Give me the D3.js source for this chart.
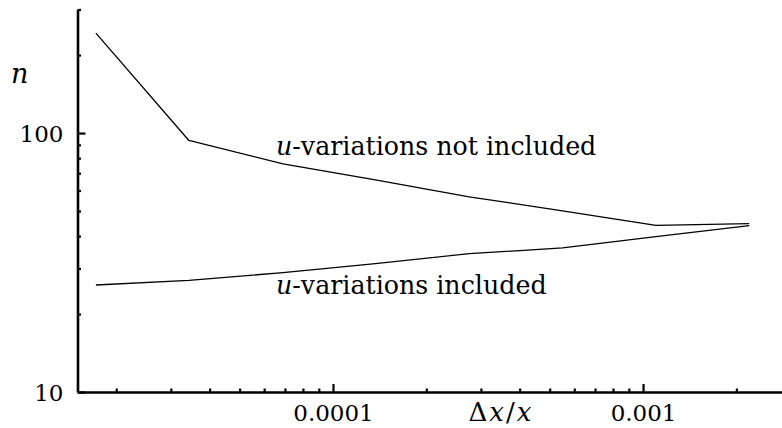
<!DOCTYPE html>
<html>
<head>
<meta charset="utf-8">
<script src="https://cdn.jsdelivr.net/npm/d3@7"></script>
<style>
  body { margin: 0; background: #fff; }
  svg { display: block; }
  text { fill: #000; }
</style>
</head>
<body>
<div id="chart"></div>
<script>
// step size dx/x and number of iterations n
var dxOverX = [1.72e-5, 3.43e-5, 6.9e-5, 1.37e-4, 2.75e-4, 5.5e-4, 1.1e-3, 2.2e-3];
var nNotIncluded = [243, 93.6, 76, 65.9, 56.7, 50.1, 44, 44.7];
var nIncluded = [25.9, 27.0, 28.9, 31.3, 34.2, 36.0, 39.8, 43.9];

var xMajorTicks = [1e-4, 1e-3];
var xMajorLabels = ["0.0001", "0.001"];
var xMinorTicks = [2e-5, 3e-5, 4e-5, 5e-5, 6e-5, 7e-5, 8e-5, 9e-5,
                   2e-4, 3e-4, 4e-4, 5e-4, 6e-4, 7e-4, 8e-4, 9e-4, 2e-3];
var yMajorTicks = [10, 100];
var yMajorLabels = ["10", "100"];
var yMinorTicks = [20, 30, 40, 50, 60, 70, 80, 90, 200, 300];

var FONT = "'DejaVu Serif', 'Noto Serif', serif";
var width = 782, height = 428;

var svg = d3.select("#chart").append("svg")
    .attr("width", width)
    .attr("height", height)
    .attr("font-family", FONT);

var x = d3.scaleLog().domain([1.5e-5, 3e-3]).range([77.5, 791]);
var y = d3.scaleLog().domain([10, 300]).range([392, 9.5]);

// axes (ticks point inwards)
var xMajor = d3.axisBottom(x).tickValues(xMajorTicks)
    .tickSize(-8).tickSizeOuter(0)
    .tickFormat(function(d, i){ return xMajorLabels[i]; });
var xMinor = d3.axisBottom(x).tickValues(xMinorTicks)
    .tickSize(-3.5).tickSizeOuter(0).tickFormat("");
var yMajor = d3.axisLeft(y).tickValues(yMajorTicks)
    .tickSize(-8).tickSizeOuter(0)
    .tickFormat(function(d, i){ return yMajorLabels[i]; });
var yMinor = d3.axisLeft(y).tickValues(yMinorTicks)
    .tickSize(-3.5).tickSizeOuter(0).tickFormat("");

function styleAxis(g){
  g.attr("font-family", FONT).attr("font-size", 23);
  g.selectAll("path.domain").attr("stroke", "#000").attr("stroke-width", 2.6);
  g.selectAll(".tick line").attr("stroke", "#000").attr("stroke-width", 2.2);
  g.selectAll(".tick text").attr("fill", "#000");
}

var gx = svg.append("g").attr("transform", "translate(0," + y(10) + ")");
gx.call(xMajor).call(styleAxis);
gx.selectAll(".tick text").attr("y", 13).attr("dy", "0.71em");
var gx2 = svg.append("g").attr("transform", "translate(0," + y(10) + ")");
gx2.call(xMinor).call(styleAxis);
gx2.select("path.domain").remove();

var gy = svg.append("g").attr("transform", "translate(" + x(1.5e-5) + ",0)");
gy.call(yMajor).call(styleAxis);
gy.selectAll(".tick text").attr("x", -14).attr("dy", "0.36em");
var gy2 = svg.append("g").attr("transform", "translate(" + x(1.5e-5) + ",0)");
gy2.call(yMinor).call(styleAxis);
gy2.select("path.domain").remove();

// curves
var line = d3.line()
    .x(function(d){ return x(d[0]); })
    .y(function(d){ return y(d[1]); });

var series = [nNotIncluded, nIncluded];
series.forEach(function(vals){
  svg.append("path")
    .datum(d3.zip(dxOverX, vals))
    .attr("d", line)
    .attr("fill", "none")
    .attr("stroke", "#000")
    .attr("stroke-width", 1.3)
    .attr("stroke-linejoin", "round");
});

// curve labels
function curveLabel(px, py, rest){
  var t = svg.append("text")
    .attr("x", px).attr("y", py)
    .attr("font-size", 25.3);
  t.append("tspan").attr("font-style", "italic").text("u");
  t.append("tspan").text(rest);
  return t;
}
curveLabel(276, 155, "-variations not included");
curveLabel(276, 294, "-variations included");

// axis titles
svg.append("text")
  .attr("x", 11).attr("y", 83)
  .attr("font-size", 27)
  .attr("font-style", "italic")
  .text("n");

var xt = svg.append("text")
  .attr("x", 500).attr("y", 421)
  .attr("text-anchor", "middle")
  .attr("font-size", 26);
xt.append("tspan").text("\u0394");
xt.append("tspan").attr("dx", 2).attr("font-style", "italic").text("x");
xt.append("tspan").attr("dx", 2).text("/");
xt.append("tspan").attr("dx", 2).attr("font-style", "italic").text("x");
</script>
</body>
</html>
